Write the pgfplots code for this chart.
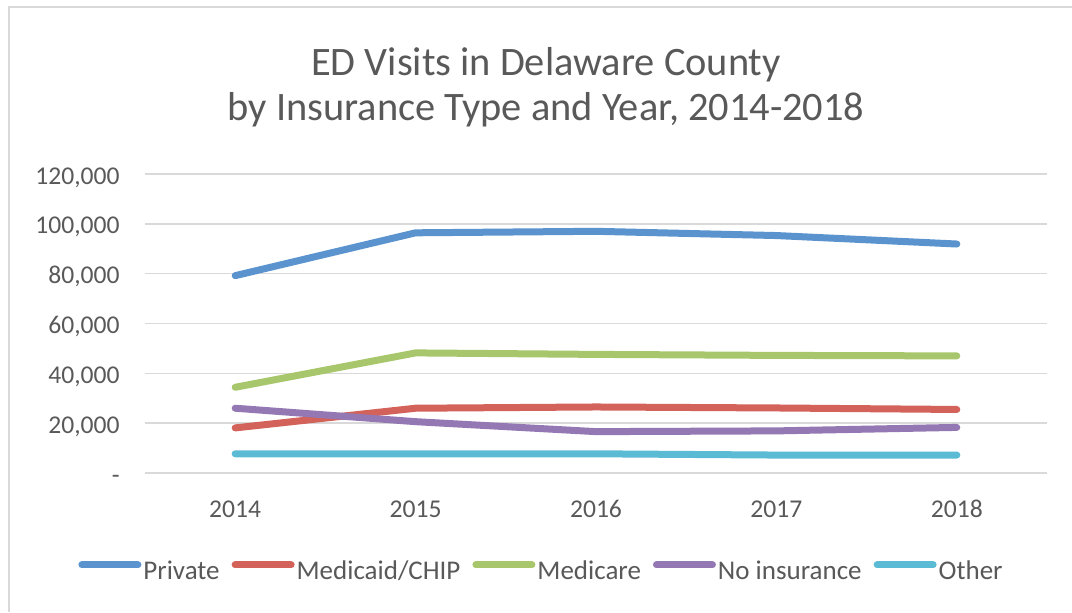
\documentclass[border=0pt]{standalone}
\usepackage{pgfplots}
\pgfplotsset{compat=1.18}
\usepackage{fontspec}
\setmainfont{Carlito}
\definecolor{cPriv}{HTML}{5A93CD}
\definecolor{cMed}{HTML}{D2625A}
\definecolor{cMcare}{HTML}{A8C66B}
\definecolor{cNone}{HTML}{9478B3}
\definecolor{cOther}{HTML}{5BBAD4}
\definecolor{gridc}{HTML}{D9D9D9}
\definecolor{txt}{HTML}{595959}
\begin{document}
\begin{tikzpicture}
\useasboundingbox (0,0) rectangle (536pt,306pt);
\draw[gridc, line width=1pt] (4.5pt,0pt) -- (4.5pt,302.5pt) -- (536pt,302.5pt);
\node[anchor=base, text=txt, font=\fontsize{20.2}{24}\selectfont] at (273pt,268pt) {ED Visits in Delaware County};
\node[anchor=base, text=txt, font=\fontsize{20.2}{24}\selectfont] at (273pt,245.5pt) {by Insurance Type and Year, 2014-2018};
\begin{axis}[
  at={(72.5pt,69.5pt)}, anchor=south west,
  scale only axis, width=451pt, height=149.5pt,
  xmin=-0.5, xmax=4.5, ymin=0, ymax=120000,
  scaled y ticks=false,
  axis lines*=left,
  axis line style={draw=none},
  major tick length=0pt,
  ymajorgrids, grid style={gridc, line width=0.75pt},
  xtick={0,1,2,3,4},
  xticklabels={2014,2015,2016,2017,2018},
  ytick={0,20000,40000,60000,80000,100000,120000},
  yticklabels={{-},{20,000},{40,000},{60,000},{80,000},{100,000},{120,000}},
  yticklabel style={anchor=base east, inner sep=0pt, xshift=-12.5pt, yshift=-5pt, text=txt, font=\fontsize{12.8}{15}\selectfont},
  xticklabel style={anchor=base, inner sep=0pt, yshift=-22pt, text=txt, font=\fontsize{12.8}{15}\selectfont},
  legend columns=5,
  legend style={draw=none, at={(0.4396,-0.331)}, anchor=center, font=\fontsize{13.5}{16}\selectfont, text=txt,
    /tikz/every even column/.append style={column sep=5pt},
    nodes={inner sep=1pt}},
  legend image code/.code={\draw[#1, line cap=round] (0pt,3.5pt) -- (28pt,3.5pt);},
  every axis plot/.append style={line width=3.5pt, line cap=round, line join=round, mark=none},
]
\addplot[cPriv] coordinates {(0,79200) (1,96400) (2,97000) (3,95300) (4,91900)};
\addlegendentry{Private}
\addplot[cMed] coordinates {(0,18100) (1,26000) (2,26500) (3,26100) (4,25500)};
\addlegendentry{Medicaid/CHIP}
\addplot[cMcare] coordinates {(0,34400) (1,48200) (2,47600) (3,47200) (4,47000)};
\addlegendentry{Medicare}
\addplot[cNone] coordinates {(0,26000) (1,20600) (2,16600) (3,16900) (4,18300)};
\addlegendentry{No insurance}
\addplot[cOther] coordinates {(0,7700) (1,7700) (2,7700) (3,7200) (4,7200)};
\addlegendentry{Other}
\end{axis}
\end{tikzpicture}
\end{document}
